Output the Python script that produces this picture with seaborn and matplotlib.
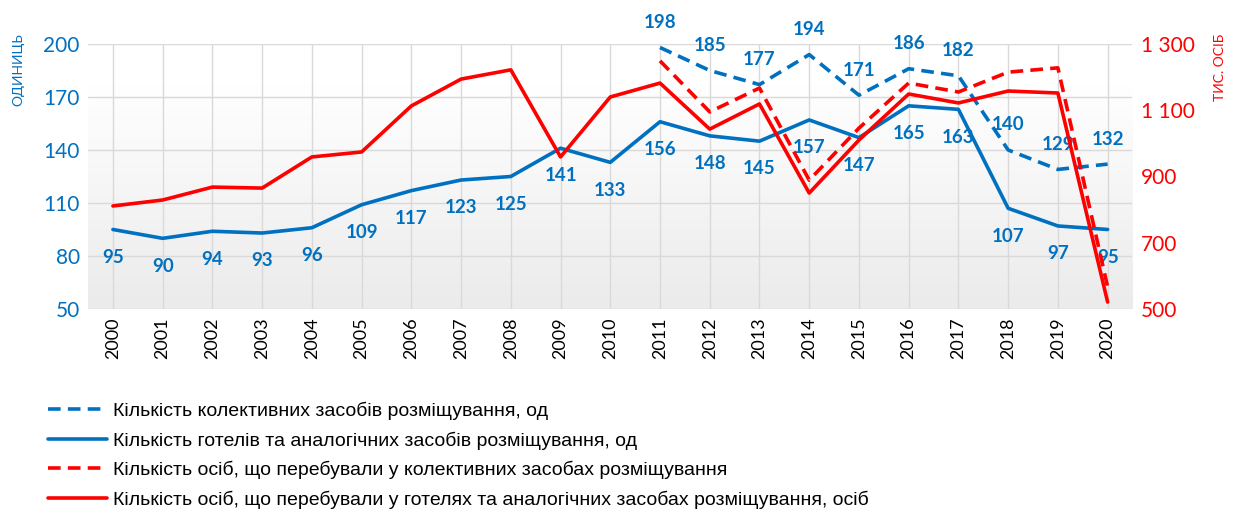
import numpy as np
import matplotlib
matplotlib.use('Agg')
import matplotlib.pyplot as plt
import seaborn as sns

# дані
years = list(range(2000, 2021))
hotels = [95, 90, 94, 93, 96, 109, 117, 123, 125, 141, 133, 156, 148, 145, 157, 147, 165, 163, 107, 97, 95]
years_coll = list(range(2011, 2021))
collective = [198, 185, 177, 194, 171, 186, 182, 140, 129, 132]
persons_hotels = [811, 829, 868, 865, 959, 974, 1113, 1194, 1222, 959, 1140,
                  1182, 1043, 1119, 850, 1010, 1149, 1122, 1158, 1152, 521]
persons_coll = [1249, 1095, 1167, 889, 1046, 1182, 1155, 1215, 1228, 567]

left_ticks = [50, 80, 110, 140, 170, 200]
right_ticks = [500, 700, 900, 1100, 1300]
right_labels = ['500', '700', '900', '1 100', '1 300']

lbl_coll = 'Кількість колективних засобів розміщування, од'
lbl_hotels = 'Кількість готелів та аналогічних засобів розміщування, од'
lbl_pcoll = 'Кількість осіб, що перебували у колективних засобах розміщування'
lbl_phot = 'Кількість осіб, що перебували у готелях та аналогічних засобах розміщування, осіб'

BLUE = '#0070C0'
RED = '#FF0000'

sns.set_style('white')
plt.rcParams['font.family'] = ['Lato', 'DejaVu Sans']

fig = plt.figure(figsize=(12.35, 5.15), dpi=100)
ax = fig.add_axes([0.0713, 0.40, 0.8457, 0.5146])

# фон з градієнтом
grad = np.linspace(0, 1, 256).reshape(-1, 1)
grad = np.clip((grad - 0.15) / 0.85, 0, 1)
cmap = matplotlib.colors.LinearSegmentedColormap.from_list('g', ['#ffffff', '#ebebeb'])
ax.imshow(grad, extent=[0, 1, 0, 1], transform=ax.transAxes, aspect='auto',
          cmap=cmap, zorder=0, origin='upper')

sns.lineplot(x=years_coll, y=collective, ax=ax, color=BLUE, lw=2.6,
             linestyle=(0, (3.5, 2)), label=lbl_coll)
sns.lineplot(x=years, y=hotels, ax=ax, color=BLUE, lw=2.6, label=lbl_hotels)

ax.set_xlim(1999.5, 2020.5)
ax.set_ylim(50, 200)
ax.set_yticks(left_ticks)
ax.set_xticks(years)
ax.set_xticklabels([str(y) for y in years], rotation=90)
ax.tick_params(axis='y', colors=BLUE, labelsize=15, length=0, pad=6)
ax.tick_params(axis='x', colors='black', labelsize=13, length=0, pad=6)
ax.grid(True, color='#d9d9d9', lw=1)
ax.set_axisbelow(True)
for s in ax.spines.values():
    s.set_visible(False)
ax.set_xlabel('')
ax.set_ylabel('')

# підписи значень
for x, v in zip(years, hotels):
    ax.annotate(str(v), (x, v), xytext=(0, -20), textcoords='offset points',
                ha='center', va='center', color=BLUE, fontsize=13.5, fontweight='bold')
for x, v in zip(years_coll, collective):
    ax.annotate(str(v), (x, v), xytext=(0, 18), textcoords='offset points',
                ha='center', va='center', color=BLUE, fontsize=13.5, fontweight='bold',
                annotation_clip=False)

ax2 = ax.twinx()
sns.lineplot(x=years_coll, y=persons_coll, ax=ax2, color=RED, lw=2.6,
             linestyle=(0, (3.5, 2)), label=lbl_pcoll)
sns.lineplot(x=years, y=persons_hotels, ax=ax2, color=RED, lw=2.6, label=lbl_phot)
ax2.set_ylim(500, 1300)
ax2.set_yticks(right_ticks)
ax2.set_yticklabels(right_labels)
ax2.tick_params(axis='y', colors=RED, labelsize=15, length=0, pad=6)
for s in ax2.spines.values():
    s.set_visible(False)
ax2.set_ylabel('')
ax2.grid(False)

h1, l1 = ax.get_legend_handles_labels()
h2, l2 = ax2.get_legend_handles_labels()
ax.get_legend().remove()
ax2.get_legend().remove()
leg = fig.legend(h1 + h2, l1 + l2, loc='upper left', bbox_to_anchor=(0.025, 0.254),
                 frameon=False, handlelength=3.0, handletextpad=0.3, labelspacing=0.58,
                 prop={'family': ['Liberation Sans', 'DejaVu Sans'], 'size': 14})
for t in leg.get_texts():
    t.set_color('black')

fig.text(0.015, 0.865, 'ОДИНИЦЬ', rotation=90, color=BLUE, fontsize=10,
         ha='center', va='center')
fig.text(0.988, 0.870, 'ТИС. ОСІБ', rotation=90, color=RED, fontsize=10,
         ha='center', va='center')

fig.savefig('out.png', dpi=100)
